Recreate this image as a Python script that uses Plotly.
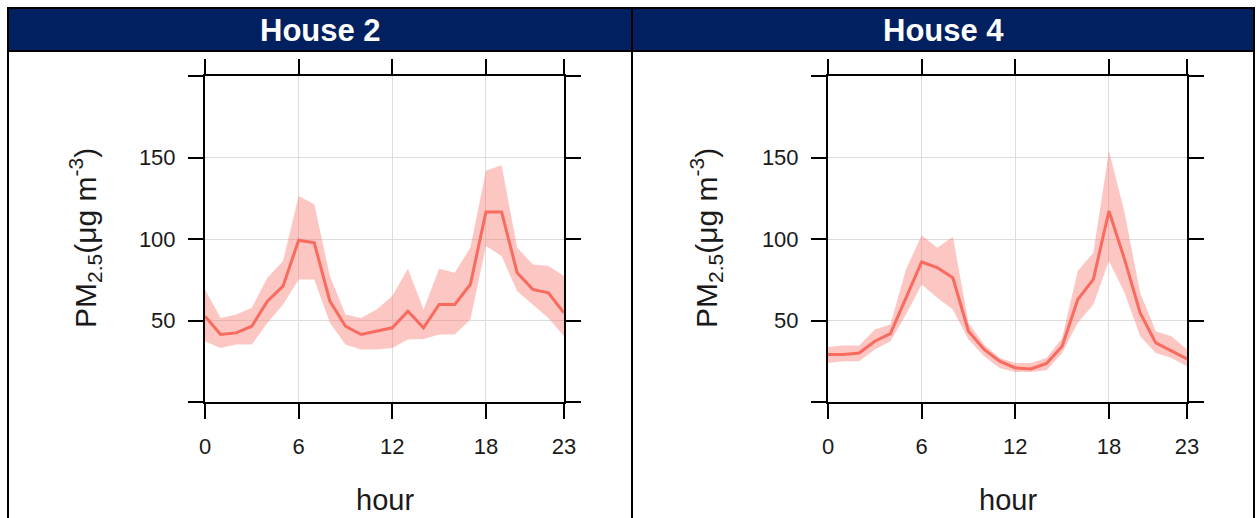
import plotly.graph_objects as go

hours = list(range(24))
tick_hours = [0, 6, 12, 18, 23]
y_ticks = [0, 50, 100, 150, 200]
y_ticktext = ["", "50", "100", "150", ""]
panel_titles = ["House 2", "House 4"]

h2_mean = [52.7, 41.4, 42.4, 46.5, 61.9, 71.1, 99.2, 97.7, 61.9, 46.5, 41.4, 43.4,
           45.5, 55.7, 45.5, 59.8, 59.8, 72.1, 116.6, 116.6, 79.3, 69.1, 67.0, 54.7]
h2_upper = [69.0, 51.6, 53.7, 57.8, 76.2, 86.5, 126.4, 121.3, 77.3, 53.7, 51.6, 56.8,
            65.0, 81.8, 56.8, 81.8, 79.3, 94.7, 141.8, 145.3, 94.7, 84.4, 83.4, 77.3]
h2_lower = [37.3, 33.2, 35.2, 35.2, 48.6, 59.8, 75.2, 75.2, 48.6, 35.2, 32.2, 32.2,
            33.2, 38.3, 38.7, 41.4, 41.4, 50.6, 95.7, 89.5, 68.0, 59.8, 51.6, 40.4]

h4_mean = [29.1, 29.1, 30.1, 37.3, 42.0, 63.9, 85.9, 82.4, 76.2, 43.4, 32.2, 25.0,
           20.9, 20.3, 23.6, 34.2, 62.9, 75.2, 117.2, 87.5, 54.7, 36.3, 31.1, 26.4]
h4_upper = [33.8, 34.6, 34.6, 44.5, 47.5, 81.4, 102.3, 94.7, 101.4, 48.6, 35.2, 27.0,
            24.0, 24.0, 27.0, 39.3, 80.3, 91.6, 154.0, 116.2, 67.0, 43.4, 40.4, 32.2]
h4_lower = [24.0, 25.0, 25.0, 32.2, 37.3, 53.7, 72.1, 63.9, 56.8, 38.3, 28.1, 20.9,
            18.4, 18.4, 19.5, 30.1, 48.6, 59.8, 86.5, 67.0, 40.4, 30.1, 27.0, 21.9]

W, H = 1257, 518
LINE_COLOR = "#F96A5F"
BAND_COLOR = "rgba(248,118,109,0.42)"
FONT = "Liberation Sans, Arial, sans-serif"
NAVY = "#002060"

fig = go.Figure()

panels = [(h2_mean, h2_upper, h2_lower), (h4_mean, h4_upper, h4_lower)]
for i, (m, u, l) in enumerate(panels):
    xa = "x" if i == 0 else "x2"
    ya = "y" if i == 0 else "y2"
    fig.add_trace(go.Scatter(x=hours, y=u, mode="lines", line=dict(width=0, color=BAND_COLOR),
                             xaxis=xa, yaxis=ya, showlegend=False, hoverinfo="skip"))
    fig.add_trace(go.Scatter(x=hours, y=l, mode="lines", line=dict(width=0, color=BAND_COLOR),
                             fill="tonexty", fillcolor=BAND_COLOR,
                             xaxis=xa, yaxis=ya, showlegend=False, hoverinfo="skip"))
    fig.add_trace(go.Scatter(x=hours, y=m, mode="lines", line=dict(width=3, color=LINE_COLOR),
                             xaxis=xa, yaxis=ya, showlegend=False))

# pixel geometry
px_left = [205, 828]
px_right = [564, 1187]
py_top, py_bot = 76, 402

def xd(p):
    return p / W

def yd(p):
    return 1 - p / H

axis_common = dict(showline=True, linecolor="black", linewidth=2, mirror="ticks",
                   ticks="outside", ticklen=15, tickwidth=2, tickcolor="black",
                   showgrid=True, gridcolor="#dddddd", gridwidth=1, zeroline=False,
                   automargin=False,
                   tickfont=dict(family=FONT, size=22, color="#1a1a1a"))

layout_axes = {}
for i in range(2):
    sx = "xaxis" if i == 0 else "xaxis2"
    sy = "yaxis" if i == 0 else "yaxis2"
    layout_axes[sx] = dict(axis_common, domain=[xd(px_left[i]), xd(px_right[i])],
                           range=[0, 23], tickvals=tick_hours, anchor="y" if i == 0 else "y2",
                           ticklabelstandoff=9)
    layout_axes[sy] = dict(axis_common, domain=[yd(py_bot), yd(py_top)],
                           range=[0, 200], tickvals=y_ticks, ticktext=y_ticktext,
                           anchor="x" if i == 0 else "x2", ticklabelstandoff=8)

shapes = [
    dict(type="rect", xref="paper", yref="paper", x0=xd(8), x1=xd(1254), y0=yd(51), y1=yd(8),
         fillcolor=NAVY, line=dict(width=0), layer="below"),
    dict(type="line", xref="paper", yref="paper", x0=xd(7), x1=xd(1255), y0=yd(8), y1=yd(8),
         line=dict(color="black", width=2)),
    dict(type="line", xref="paper", yref="paper", x0=xd(7), x1=xd(1255), y0=yd(51), y1=yd(51),
         line=dict(color="black", width=2)),
    dict(type="line", xref="paper", yref="paper", x0=xd(8), x1=xd(8), y0=yd(8), y1=yd(518),
         line=dict(color="black", width=2)),
    dict(type="line", xref="paper", yref="paper", x0=xd(632), x1=xd(632), y0=yd(8), y1=yd(518),
         line=dict(color="black", width=2)),
    dict(type="line", xref="paper", yref="paper", x0=xd(1254), x1=xd(1254), y0=yd(8), y1=yd(518),
         line=dict(color="black", width=2)),
]

annotations = []
title_cx = [320, 943]
ylab_cx = [85, 706]
for i in range(2):
    annotations.append(dict(text="<b>%s</b>" % panel_titles[i], xref="paper", yref="paper",
                            x=xd(title_cx[i]), y=yd(31), showarrow=False,
                            xanchor="center", yanchor="middle",
                            font=dict(family=FONT, size=31, color="white")))
    annotations.append(dict(text="PM<sub>2.5</sub>(μg m<sup>-3</sup>)", xref="paper", yref="paper",
                            x=xd(ylab_cx[i]), y=yd(238), showarrow=False, textangle=-90,
                            xanchor="center", yanchor="middle",
                            font=dict(family=FONT, size=30, color="#1a1a1a")))
    annotations.append(dict(text="hour", xref="paper", yref="paper",
                            x=xd((px_left[i] + px_right[i]) / 2), y=yd(500), showarrow=False,
                            xanchor="center", yanchor="middle",
                            font=dict(family=FONT, size=29, color="#1a1a1a")))

fig.update_layout(width=W, height=H, margin=dict(l=0, r=0, t=0, b=0, autoexpand=False),
                  paper_bgcolor="white", plot_bgcolor="white",
                  shapes=shapes, annotations=annotations, **layout_axes)

fig.write_html("out.html")
